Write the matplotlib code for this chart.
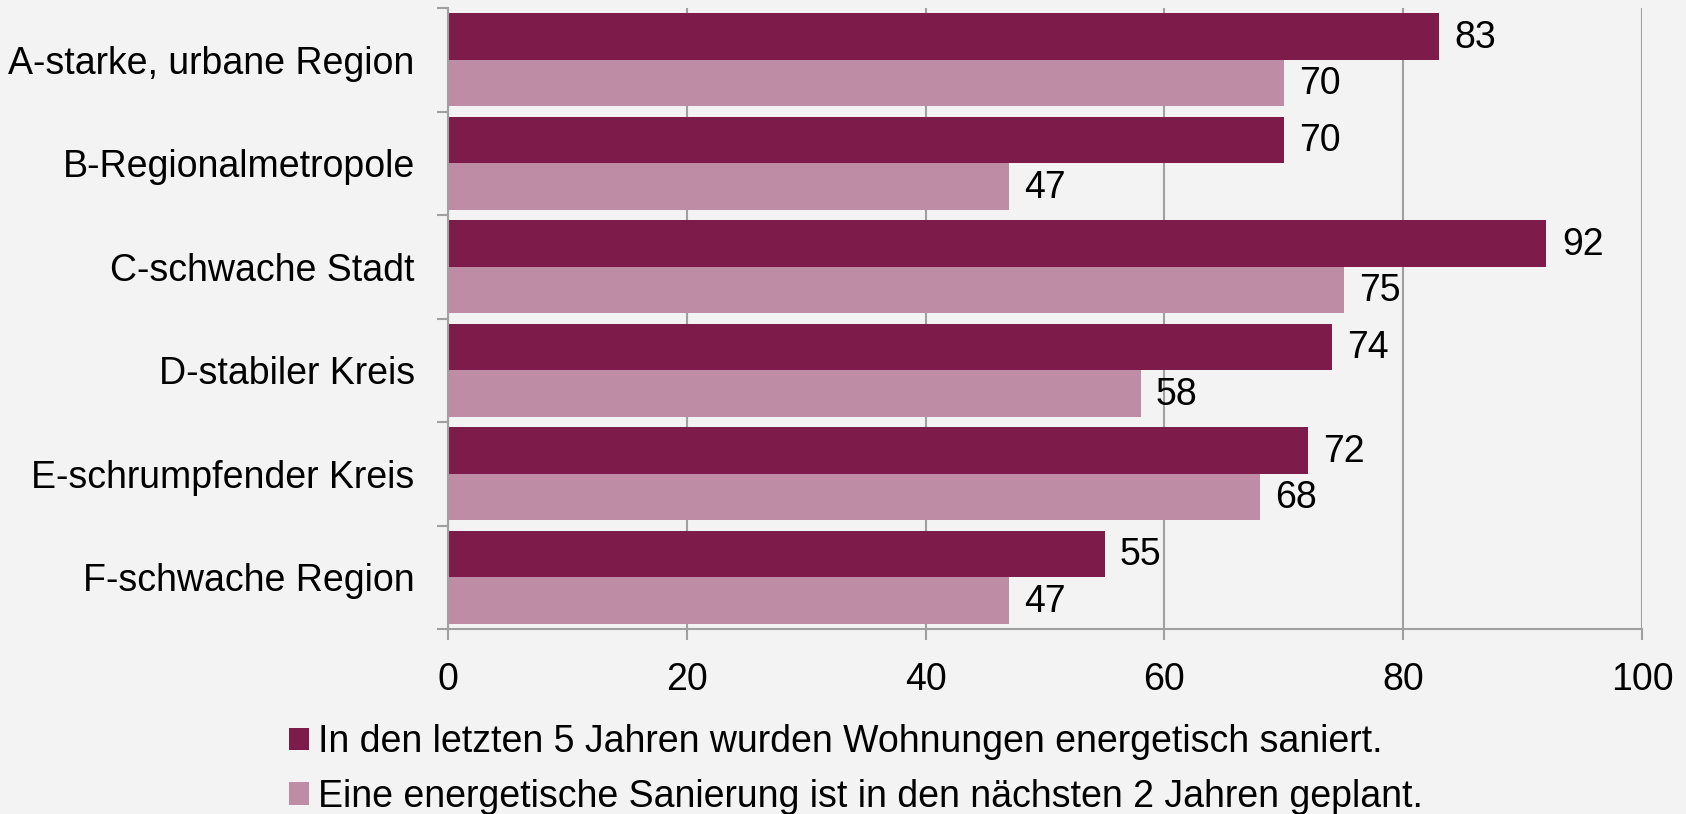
import matplotlib
matplotlib.use("Agg")
import matplotlib.pyplot as plt
import numpy as np
from matplotlib.patches import Patch

categories = ["A-starke, urbane Region", "B-Regionalmetropole", "C-schwache Stadt",
              "D-stabiler Kreis", "E-schrumpfender Kreis", "F-schwache Region"]
saniert = [83, 70, 92, 74, 72, 55]
geplant = [70, 47, 75, 58, 68, 47]
series_names = ["In den letzten 5 Jahren wurden Wohnungen energetisch saniert.",
                "Eine energetische Sanierung ist in den nächsten 2 Jahren geplant."]
xticks = [0, 20, 40, 60, 80, 100]

dark = "#7D1C4A"
light = "#BF8CA6"
bg = "#F3F3F3"
grid_c = "#A0A0A0"
FS = 27

plt.rcParams['font.family'] = ['Liberation Sans', 'DejaVu Sans']
W, H = 1686, 814
fig = plt.figure(figsize=(W/100, H/100), dpi=100, facecolor=bg)
ax = fig.add_axes([448/W, 1-629/H, (1642-448)/W, (629-8)/H], facecolor=bg)

y = np.arange(len(categories))
h = 0.45
ax.barh(y - 0.225, saniert, height=h, color=dark, zorder=3)
ax.barh(y + 0.225, geplant, height=h, color=light, zorder=3)

for yi, v in zip(y, saniert):
    ax.annotate(str(v), (v, yi - 0.225), xytext=(11, -1), textcoords="offset points",
                va="center", ha="left", fontsize=FS, color="black")
for yi, v in zip(y, geplant):
    ax.annotate(str(v), (v, yi + 0.225), xytext=(11, -1), textcoords="offset points",
                va="center", ha="left", fontsize=FS, color="black")

ax.set_xlim(0, 100)
ax.set_ylim(len(categories) - 0.5, -0.5)
ax.set_xticks(xticks)
ax.set_xticklabels([str(t) for t in xticks], fontsize=FS)
ax.set_yticks(y)
ax.set_yticklabels(categories, fontsize=FS)
ax.set_yticks(np.arange(len(categories) + 1) - 0.5, minor=True)
ax.tick_params(axis='y', which='major', length=0, pad=24)
ax.tick_params(axis='y', which='minor', length=8, width=1.5, color=grid_c)
ax.tick_params(axis='x', which='major', length=8, width=1.5, color=grid_c, pad=16)
ax.xaxis.grid(True, color=grid_c, linewidth=1.5, zorder=0)
for s in ['top', 'right']:
    ax.spines[s].set_visible(False)
for s in ['left', 'bottom']:
    ax.spines[s].set_color(grid_c)
    ax.spines[s].set_linewidth(1.5)
    ax.spines[s].set_zorder(4)

handles = [Patch(facecolor=dark, label=series_names[0]),
           Patch(facecolor=light, label=series_names[1])]
fig.legend(handles=handles, loc="upper left", bbox_to_anchor=(289/W, 1-724/H),
           frameon=False, fontsize=FS, handlelength=0.54, handleheight=0.54,
           handletextpad=0.23, labelspacing=0.5, borderpad=0, borderaxespad=0)

fig.savefig("out.png", dpi=100, facecolor=bg)
